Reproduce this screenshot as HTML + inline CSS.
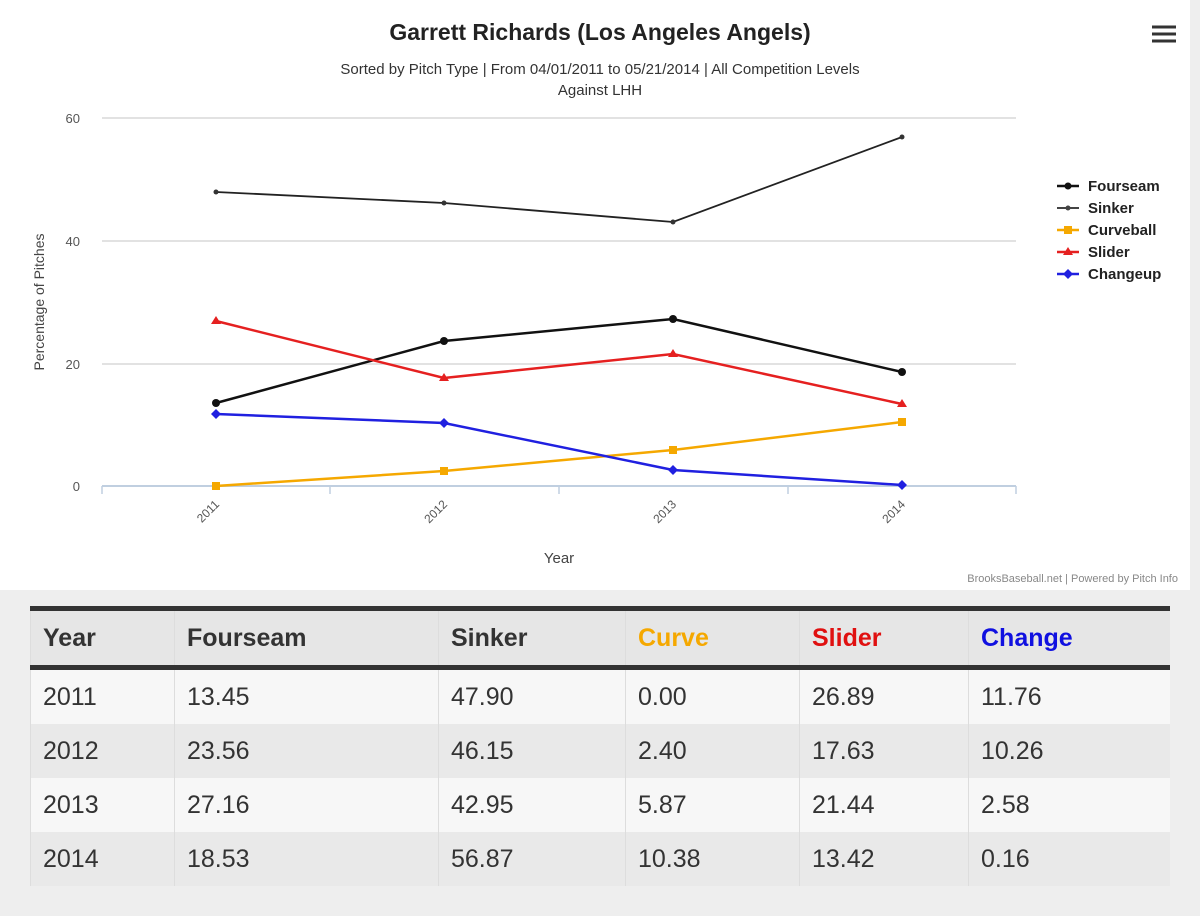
<!DOCTYPE html>
<html><head><meta charset="utf-8"><style>
body{margin:0;width:1200px;height:916px;background:#eeeeee;font-family:"Liberation Sans","DejaVu Sans",sans-serif;overflow:hidden;position:relative}
.chart{position:absolute;left:0;top:0;width:1190px;height:590px;background:#fff}
table{position:absolute;left:30px;top:606px;width:1140px;border-collapse:collapse;font-size:25px;color:#333;table-layout:fixed}
th{height:54px;padding:0 0 0 12px;text-align:left;font-weight:bold;background:#e6e6e6;border-top:5px solid #333;border-bottom:5px solid #333;border-left:1px solid #ddd}
td{height:54px;padding:0 0 0 12px;border-left:1px solid #ddd}
tr:nth-child(even) td{background:#f7f7f7}
tr:nth-child(odd) td{background:#e9e9e9}
</style></head><body>
<div class="chart">
<svg width="1190" height="590" font-family="Liberation Sans, DejaVu Sans, sans-serif">
<text x="600" y="40" text-anchor="middle" font-size="23" font-weight="bold" fill="#222">Garrett Richards (Los Angeles Angels)</text>
<text x="600" y="74" text-anchor="middle" font-size="15" fill="#333">Sorted by Pitch Type | From 04/01/2011 to 05/21/2014 | All Competition Levels</text>
<text x="600" y="95" text-anchor="middle" font-size="15" fill="#333">Against LHH</text>
<g stroke="#333" stroke-width="3"><line x1="1152" y1="27" x2="1176" y2="27"/><line x1="1152" y1="34" x2="1176" y2="34"/><line x1="1152" y1="41" x2="1176" y2="41"/></g>
<g stroke="#d8d8d8" stroke-width="1.5"><line x1="102" y1="118" x2="1016" y2="118"/><line x1="102" y1="241" x2="1016" y2="241"/><line x1="102" y1="364" x2="1016" y2="364"/></g>
<line x1="102" y1="486" x2="1016" y2="486" stroke="#c0cfe0" stroke-width="2"/>
<g stroke="#c0cfe0" stroke-width="1.5"><line x1="330" y1="486" x2="330" y2="494"/><line x1="559" y1="486" x2="559" y2="494"/><line x1="788" y1="486" x2="788" y2="494"/><line x1="1016" y1="486" x2="1016" y2="494"/><line x1="102" y1="486" x2="102" y2="494"/></g>
<g font-size="13" fill="#555" text-anchor="end"><text x="80" y="123">60</text><text x="80" y="246">40</text><text x="80" y="369">20</text><text x="80" y="491">0</text></g>
<g font-size="12" fill="#555" text-anchor="end">
<text transform="translate(220,505) rotate(-45)">2011</text><text transform="translate(448,505) rotate(-45)">2012</text><text transform="translate(677,505) rotate(-45)">2013</text><text transform="translate(906,505) rotate(-45)">2014</text></g>
<text x="559" y="563" text-anchor="middle" font-size="15" fill="#444">Year</text>
<text transform="translate(44,302) rotate(-90)" text-anchor="middle" font-size="14" fill="#444">Percentage of Pitches</text>
<g fill="none" stroke-width="2.5">
<polyline stroke="#222" stroke-width="1.8" points="216,192 444,203 673,222 902,137"/>
<polyline stroke="#111" points="216,403 444,341 673,319 902,372"/>
<polyline stroke="#f5a800" points="216,486 444,471 673,450 902,422"/>
<polyline stroke="#e52020" points="216,321 444,378 673,354 902,404"/>
<polyline stroke="#2020e0" points="216,414 444,423 673,470 902,485"/>
</g>
<g fill="#111"><circle cx="216" cy="403" r="4"/><circle cx="444" cy="341" r="4"/><circle cx="673" cy="319" r="4"/><circle cx="902" cy="372" r="4"/></g>
<g fill="#333"><circle cx="216" cy="192" r="2.5"/><circle cx="444" cy="203" r="2.5"/><circle cx="673" cy="222" r="2.5"/><circle cx="902" cy="137" r="2.5"/></g>
<g fill="#f5a800"><rect x="212" y="482" width="8" height="8"/><rect x="440" y="467" width="8" height="8"/><rect x="669" y="446" width="8" height="8"/><rect x="898" y="418" width="8" height="8"/></g>
<g fill="#e52020"><path d="M216 316l5 8h-10z"/><path d="M444 373l5 8h-10z"/><path d="M673 349l5 8h-10z"/><path d="M902 399l5 8h-10z"/></g>
<g fill="#2020e0"><path d="M216 409l5 5-5 5-5-5z"/><path d="M444 418l5 5-5 5-5-5z"/><path d="M673 465l5 5-5 5-5-5z"/><path d="M902 480l5 5-5 5-5-5z"/></g>
<g font-size="15" font-weight="bold" fill="#222">
<line x1="1057" y1="186" x2="1079" y2="186" stroke="#111" stroke-width="2.5"/><circle cx="1068" cy="186" r="3.5" fill="#111"/><text x="1088" y="191">Fourseam</text>
<line x1="1057" y1="208" x2="1079" y2="208" stroke="#444" stroke-width="2"/><circle cx="1068" cy="208" r="2.5" fill="#444"/><text x="1088" y="213">Sinker</text>
<line x1="1057" y1="230" x2="1079" y2="230" stroke="#f5a800" stroke-width="2.5"/><rect x="1064" y="226" width="8" height="8" fill="#f5a800"/><text x="1088" y="235">Curveball</text>
<line x1="1057" y1="252" x2="1079" y2="252" stroke="#e52020" stroke-width="2.5"/><path d="M1068 247l5 8h-10z" fill="#e52020"/><text x="1088" y="257">Slider</text>
<line x1="1057" y1="274" x2="1079" y2="274" stroke="#2020e0" stroke-width="2.5"/><path d="M1068 269l5 5-5 5-5-5z" fill="#2020e0"/><text x="1088" y="279">Changeup</text>
</g>
<text x="1178" y="582" text-anchor="end" font-size="11" fill="#888">BrooksBaseball.net | Powered by Pitch Info</text>
</svg>
</div>
<table>
<tr><th style="width:131px">Year</th><th style="width:251px">Fourseam</th><th style="width:174px">Sinker</th><th style="width:161px;color:#f5a800">Curve</th><th style="width:156px;color:#e01010">Slider</th><th style="color:#1010e0">Change</th></tr>
<tr><td>2011</td><td>13.45</td><td>47.90</td><td>0.00</td><td>26.89</td><td>11.76</td></tr>
<tr><td>2012</td><td>23.56</td><td>46.15</td><td>2.40</td><td>17.63</td><td>10.26</td></tr>
<tr><td>2013</td><td>27.16</td><td>42.95</td><td>5.87</td><td>21.44</td><td>2.58</td></tr>
<tr><td>2014</td><td>18.53</td><td>56.87</td><td>10.38</td><td>13.42</td><td>0.16</td></tr>
</table>
</body></html>
